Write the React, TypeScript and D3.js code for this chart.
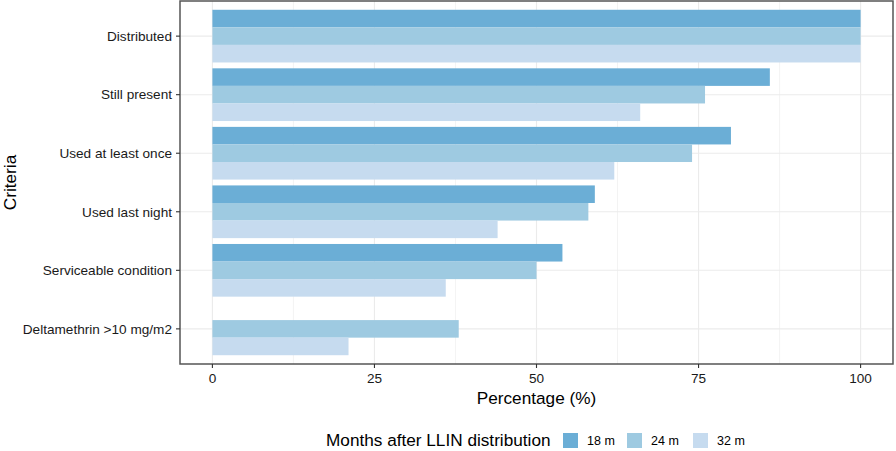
import React from "react";
import * as d3 from "d3";

const categories = [
  "Distributed",
  "Still present",
  "Used at least once",
  "Used last night",
  "Serviceable condition",
  "Deltamethrin >10 mg/m2",
];
const seriesNames = ["18 m", "24 m", "32 m"];
const values18m: (number | null)[] = [100, 86, 80, 59, 54, null];
const values24m: (number | null)[] = [100, 76, 74, 58, 50, 38];
const values32m: (number | null)[] = [100, 66, 62, 44, 36, 21];
const xTicks = [0, 25, 50, 75, 100];
const xMinor = [12.5, 37.5, 62.5, 87.5];
const colors = ["#6baed6", "#9ecae1", "#c6dbef"];

const W = 896;
const H = 451;
const panel = { left: 180, right: 893, top: 1, bottom: 364 };
const FONT = "'Liberation Sans', Arial, sans-serif";

export default function App() {
  const seriesValues = [values18m, values24m, values32m];
  const x = d3
    .scaleLinear()
    .domain([-5, 105])
    .range([panel.left, panel.right]);
  const y = d3
    .scaleLinear()
    .domain([0.4, categories.length + 0.6])
    .range([panel.top, panel.bottom]);
  const inner = d3.scaleBand<string>().domain(seriesNames).range([-0.45, 0.45]);
  const bw = y(inner.bandwidth()) - y(0);

  const legendKeys = [563, 627, 693];

  return (
    <svg
      width={W}
      height={H}
      style={{ position: "absolute", left: 0, top: 0, background: "#fff" }}
      fontFamily={FONT}
    >
      <rect x={0} y={0} width={W} height={H} fill="#fff" />
      {xMinor.map((t) => (
        <line
          key={"mn" + t}
          x1={x(t)}
          x2={x(t)}
          y1={panel.top}
          y2={panel.bottom}
          stroke="#ebebeb"
          strokeWidth={0.6}
        />
      ))}
      {xTicks.map((t) => (
        <line
          key={"mj" + t}
          x1={x(t)}
          x2={x(t)}
          y1={panel.top}
          y2={panel.bottom}
          stroke="#ebebeb"
          strokeWidth={1.1}
        />
      ))}
      {categories.map((c, i) => (
        <line
          key={"yg" + c}
          x1={panel.left}
          x2={panel.right}
          y1={y(i + 1)}
          y2={y(i + 1)}
          stroke="#ebebeb"
          strokeWidth={1.1}
        />
      ))}
      {categories.map((c, i) =>
        seriesNames.map((s, j) => {
          const v = seriesValues[j][i];
          if (v == null) return null;
          const y0 = y(i + 1 + (inner(s) as number));
          return (
            <rect
              key={c + s}
              x={x(0)}
              y={y0}
              width={x(v) - x(0)}
              height={bw}
              fill={colors[j]}
            />
          );
        })
      )}
      <rect
        x={panel.left}
        y={panel.top}
        width={panel.right - panel.left}
        height={panel.bottom - panel.top}
        fill="none"
        stroke="#555"
        strokeWidth={1.5}
      />
      {categories.map((c, i) => (
        <g key={"yt" + c}>
          <line
            x1={panel.left - 4}
            x2={panel.left}
            y1={y(i + 1)}
            y2={y(i + 1)}
            stroke="#333"
            strokeWidth={1.1}
          />
          <text
            x={panel.left - 8}
            y={y(i + 1)}
            dy="0.35em"
            textAnchor="end"
            fontSize={13.6}
            fill="#1a1a1a"
          >
            {c}
          </text>
        </g>
      ))}
      {xTicks.map((t) => (
        <g key={"xt" + t}>
          <line
            x1={x(t)}
            x2={x(t)}
            y1={panel.bottom}
            y2={panel.bottom + 4}
            stroke="#333"
            strokeWidth={1.1}
          />
          <text
            x={x(t)}
            y={panel.bottom + 19}
            textAnchor="middle"
            fontSize={13.6}
            fill="#1a1a1a"
          >
            {t}
          </text>
        </g>
      ))}
      <text
        x={(x(0) + x(100)) / 2}
        y={404}
        textAnchor="middle"
        fontSize={17.2}
        fill="#000"
      >
        Percentage (%)
      </text>
      <text
        transform={`translate(16, ${(panel.top + panel.bottom) / 2}) rotate(-90)`}
        textAnchor="middle"
        fontSize={17.2}
        fill="#000"
      >
        Criteria
      </text>
      <text x={326} y={446} fontSize={17.2} fill="#000">
        Months after LLIN distribution
      </text>
      {seriesNames.map((s, j) => (
        <g key={"lg" + s}>
          <rect
            x={legendKeys[j]}
            y={433}
            width={15}
            height={15}
            fill={colors[j]}
          />
          <text x={legendKeys[j] + 24} y={445} fontSize={12.5} fill="#000">
            {s}
          </text>
        </g>
      ))}
    </svg>
  );
}
